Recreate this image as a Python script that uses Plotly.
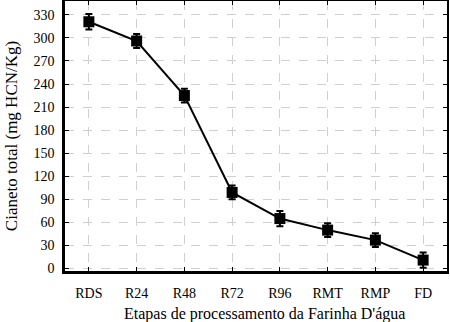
import plotly.graph_objects as go

# Processing stages and total cyanide content (mg HCN/Kg)
etapas = ["RDS", "R24", "R48", "R72", "R96", "RMT", "RMP", "FD"]
cianeto = [321, 296, 225, 99, 65, 50, 37, 11]
erro = [10, 9, 9, 9, 10, 9, 9, 10]
y_ticks = [0, 30, 60, 90, 120, 150, 180, 210, 240, 270, 300, 330]

FONT = "Liberation Serif, Times New Roman, serif"
x_pos = list(range(len(etapas)))

fig = go.Figure()
fig.add_trace(go.Scatter(
    x=x_pos, y=cianeto,
    mode="lines+markers",
    line=dict(color="black", width=2),
    marker=dict(symbol="square", size=11, color="black"),
    error_y=dict(type="data", array=erro, visible=True,
                 color="black", thickness=2, width=3.5),
    showlegend=False,
))
# Invisible trace to carry the mirrored top/right axes
fig.add_trace(go.Scatter(x=[None], y=[None], xaxis="x2", yaxis="y2",
                         showlegend=False, hoverinfo="skip"))

grid = dict(showgrid=True, gridcolor="#d0d0d0", gridwidth=1, griddash="dash")

fig.update_layout(
    width=450, height=322,
    margin=dict(l=65, r=3, t=1, b=51),
    paper_bgcolor="white", plot_bgcolor="white",
    font=dict(family=FONT, color="black", size=14),
    xaxis=dict(
        range=[-0.5, 7.5], tickmode="array", tickvals=x_pos, ticktext=etapas,
        showline=True, linecolor="black", linewidth=2.5,
        ticks="inside", ticklen=4, tickcolor="black", tickwidth=1,
        zeroline=False, ticklabelstandoff=7,
        **grid,
    ),
    yaxis=dict(
        range=[-3.2, 348], tickmode="array", tickvals=y_ticks,
        showline=True, linecolor="black", linewidth=2.5,
        ticks="inside", ticklen=4, tickcolor="black", tickwidth=1,
        zeroline=False, ticklabelstandoff=5,
        title=dict(text="Cianeto total (mg HCN/Kg)",
                   font=dict(size=17), standoff=12),
        **grid,
    ),
    xaxis2=dict(
        overlaying="x", side="top", matches="x",
        range=[-0.5, 7.5], tickmode="array", tickvals=x_pos,
        showticklabels=False, showline=True, linecolor="black", linewidth=1.5,
        ticks="inside", ticklen=4, tickcolor="black", showgrid=False,
        zeroline=False,
    ),
    yaxis2=dict(
        overlaying="y", side="right", matches="y",
        range=[-3.2, 348], tickmode="array", tickvals=y_ticks,
        showticklabels=False, showline=True, linecolor="black", linewidth=1.5,
        ticks="inside", ticklen=4, tickcolor="black", showgrid=False,
        zeroline=False,
    ),
)

# X-axis title, set slightly right of the plot centre
fig.add_annotation(
    text="Etapas de processamento da Farinha D'água",
    xref="paper", yref="paper", x=0.521, y=0,
    xanchor="center", yanchor="top", yshift=-32,
    showarrow=False, font=dict(size=16),
)

fig.write_html("out.html")
